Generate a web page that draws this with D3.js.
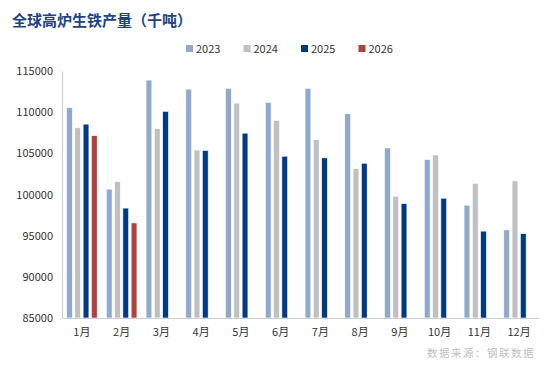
<!DOCTYPE html>
<html lang="zh">
<head>
<meta charset="utf-8">
<title>全球高炉生铁产量</title>
<script src="https://d3js.org/d3.v7.min.js"></script>
<style>
  body { margin: 0; background: #fff; }
  text { font-family: "Noto Sans CJK SC", "Liberation Sans", sans-serif; }
</style>
</head>
<body>
<div id="chart"></div>
<script>
// months on the x axis
var months = ["1月","2月","3月","4月","5月","6月","7月","8月","9月","10月","11月","12月"];
var seriesNames = ["2023","2024","2025","2026"];
// values (千吨)
var v2023 = [110550, 100650, 113900, 112800, 112900, 111200, 112900, 109800, 105650, 104250, 98700, 95700];
var v2024 = [108100, 101550, 108000, 105400, 111100, 109000, 106650, 103150, 99800, 104800, 101350, 101650];
var v2025 = [108550, 98350, 110100, 105350, 107450, 104650, 104450, 103800, 98900, 99550, 95550, 95250];
var v2026 = [107150, 96550];
var yTicks = [85000, 90000, 95000, 100000, 105000, 110000, 115000];
var colors = ["#8EA9C9", "#C0C0C0", "#003A84", "#B0413E"];

var W = 554, H = 375;
var margin = {top: 71, right: 15, bottom: 57, left: 62};

var svg = d3.select("#chart").append("svg")
  .attr("width", W).attr("height", H);

// title
svg.append("text")
  .attr("x", 12).attr("y", 26)
  .attr("font-size", 15).attr("font-weight", "bold")
  .attr("fill", "#1F4286")
  .attr("font-family", "'Noto Sans CJK SC', serif")
  .text("全球高炉生铁产量（千吨）");

var x0 = d3.scaleBand().domain(months)
  .range([margin.left, W - margin.right]).padding(0);
var x1 = d3.scaleBand().domain(seriesNames)
  .range([0, x0.bandwidth()]).paddingInner(0.3).paddingOuter(0.55);
var y = d3.scaleLinear().domain([85000, 115000])
  .range([H - margin.bottom, margin.top]);

// build rows
var data = [];
var all = [v2023, v2024, v2025, v2026];
all.forEach(function(arr, si) {
  arr.forEach(function(v, mi) {
    data.push({month: months[mi], series: seriesNames[si], value: v, c: colors[si]});
  });
});

svg.append("g").selectAll("rect")
  .data(data).enter().append("rect")
  .attr("x", function(d) { return x0(d.month) + x1(d.series); })
  .attr("y", function(d) { return y(d.value); })
  .attr("width", x1.bandwidth())
  .attr("height", function(d) { return y(85000) - y(d.value); })
  .attr("fill", function(d) { return d.c; })
  .attr("stroke", "#fff").attr("stroke-width", 0.6);

// y axis
var yAxis = svg.append("g")
  .attr("transform", "translate(" + margin.left + ",0)")
  .call(d3.axisLeft(y).tickValues(yTicks).tickSize(0).tickPadding(9).tickFormat(d3.format("d")));
yAxis.select(".domain").attr("stroke", "#D0D0D0").attr("stroke-width", 1.2);
yAxis.selectAll("text").attr("font-size", 11).attr("fill", "#333")
  .attr("font-family", "'Liberation Sans', sans-serif");

// x axis
var xAxis = svg.append("g")
  .attr("transform", "translate(0," + (H - margin.bottom) + ")")
  .call(d3.axisBottom(x0).tickSize(0).tickPadding(10));
xAxis.select(".domain").attr("stroke", "#D0D0D0").attr("stroke-width", 1.2);
xAxis.selectAll("text").attr("font-size", 11).attr("fill", "#333");

// legend
var leg = svg.append("g").selectAll("g")
  .data(seriesNames).enter().append("g")
  .attr("transform", function(d, i) { return "translate(" + (186 + i * 57.5) + ",45)"; });
leg.append("rect").attr("width", 7).attr("height", 7)
  .attr("fill", function(d, i) { return colors[i]; });
leg.append("text").attr("x", 10).attr("y", 7.5)
  .attr("font-size", 11).attr("fill", "#333")
  .attr("font-family", "'Liberation Sans', sans-serif")
  .text(function(d) { return d; });

// source
svg.append("text")
  .attr("x", 535).attr("y", 357)
  .attr("text-anchor", "end")
  .attr("font-size", 10.5).attr("fill", "#BFBFBF")
  .attr("letter-spacing", 1.5)
  .text("数据来源：钢联数据");
</script>
</body>
</html>
